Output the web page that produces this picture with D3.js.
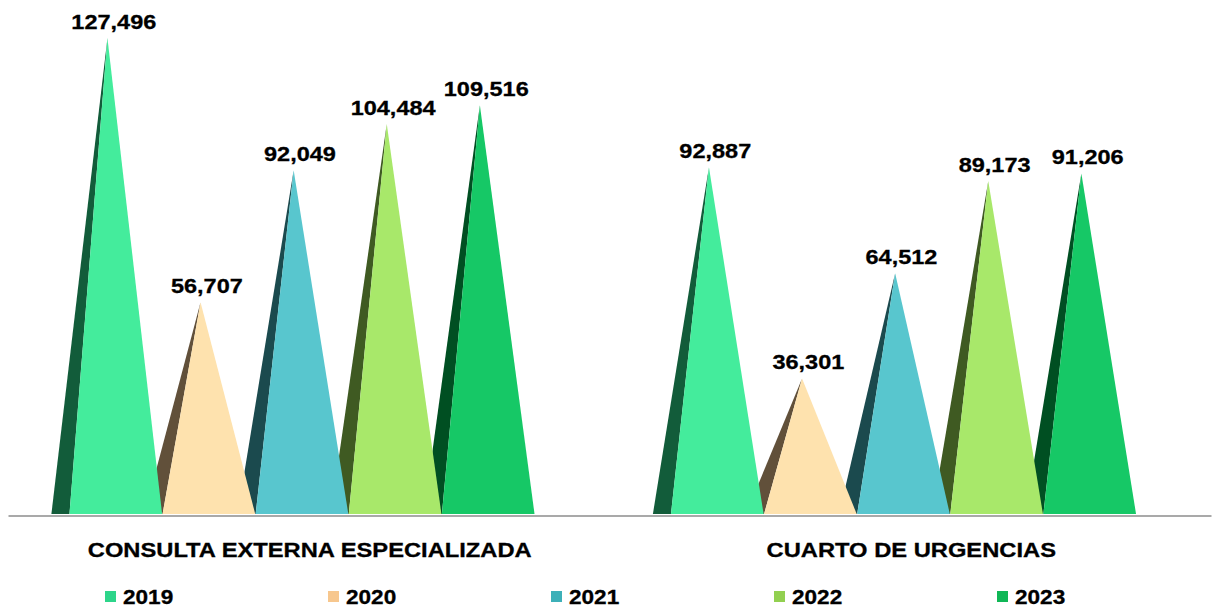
<!DOCTYPE html>
<html>
<head>
<meta charset="utf-8">
<script src="https://cdn.jsdelivr.net/npm/d3@7"></script>
<style>
  html, body { margin: 0; padding: 0; background: #ffffff; }
  svg { display: block; }
  text { font-family: "Liberation Sans", Arial, sans-serif; font-weight: bold; fill: #000; }
</style>
</head>
<body>
<svg id="chart" width="1212" height="610"></svg>
<script>
const categories = ["CONSULTA EXTERNA ESPECIALIZADA", "CUARTO DE URGENCIAS"];
const years = ["2019", "2020", "2021", "2022", "2023"];
const values2019 = [127496, 92887];
const values2020 = [56707, 36301];
const values2021 = [92049, 64512];
const values2022 = [104484, 89173];
const values2023 = [109516, 91206];
const seriesValues = [values2019, values2020, values2021, values2022, values2023];
const frontColors = ["#44EC9C", "#FEE2AE", "#58C6CE", "#A8E86A", "#16C866"];
const sideColors  = ["#125C3A", "#61503A", "#1B4A4E", "#3F5A22", "#004F22"];
const legendColors = ["#2DD58A", "#F7C78E", "#3DB0B8", "#92D050", "#10B756"];

const svg = d3.select("#chart");
const baseY = 514;

const x0 = d3.scaleBand().domain(categories).range([8, 1211]).padding(0);
const x1 = d3.scaleBand().domain(years).range([61, 527]).padding(0.005);
const y = d3.scaleLinear().domain([0, 127496]).range([baseY, 38]);

const fmt = d3.format(",");

const data = [];
categories.forEach((c, ci) => {
  years.forEach((yr, yi) => {
    data.push({ cat: c, year: yr, yi: yi, value: seriesValues[yi][ci] });
  });
});

function geom(d) {
  const left = x0(d.cat) + x1(d.year);
  const w = x1.bandwidth();
  const apexX = left + w * 0.41;
  const apexY = y(d.value);
  return { left, w, apexX, apexY, sideLeft: left - w * 0.195 };
}

// side (dark) faces first
svg.append("g").selectAll("path").data(data).join("path")
  .attr("d", d => {
    const g = geom(d);
    return `M${g.sideLeft},${baseY}L${g.apexX},${g.apexY}L${g.left},${baseY}Z`;
  })
  .attr("fill", d => sideColors[d.yi]);

// front faces
svg.append("g").selectAll("path").data(data).join("path")
  .attr("d", d => {
    const g = geom(d);
    return `M${g.left},${baseY}L${g.apexX},${g.apexY}L${g.left + g.w},${baseY}Z`;
  })
  .attr("fill", d => frontColors[d.yi]);

// axis line
const xAxis = d3.axisBottom(x0).tickSize(0).tickFormat("");
const axisG = svg.append("g").attr("transform", `translate(0,${baseY + 1.5})`).call(xAxis);
axisG.select(".domain").attr("stroke", "#8c8c8c").attr("stroke-width", 1.5);

// data labels
svg.append("g").selectAll("text").data(data).join("text")
  .attr("transform", d => {
    const g = geom(d);
    return `translate(${g.left + g.w / 2 - 2},${g.apexY - 9}) scale(1.12,1)`;
  })
  .attr("text-anchor", "middle")
  .attr("font-size", 21)
  .attr("stroke", "#000").attr("stroke-width", 0.3)
  .text(d => fmt(d.value));

// category labels
svg.append("g").selectAll("text").data(categories).join("text")
  .attr("transform", d => `translate(${x0(d) + x0.bandwidth() / 2 + 1},557) scale(1.13,1)`)
  .attr("text-anchor", "middle")
  .attr("font-size", 21)
  .attr("stroke", "#000").attr("stroke-width", 0.3)
  .text(d => d);

// legend
const legendX = d3.scaleBand().domain(years).range([105, 105 + 223 * 5]);
const lg = svg.append("g").selectAll("g").data(years).join("g")
  .attr("transform", d => `translate(${legendX(d)},0)`);
lg.append("rect").attr("x", 0).attr("y", 591).attr("width", 11).attr("height", 11)
  .attr("fill", (d, i) => legendColors[i]);
lg.append("text")
  .attr("transform", "translate(18,604) scale(1.13,1)")
  .attr("font-size", 20)
  .attr("stroke", "#000").attr("stroke-width", 0.3)
  .text(d => d);
</script>
</body>
</html>
